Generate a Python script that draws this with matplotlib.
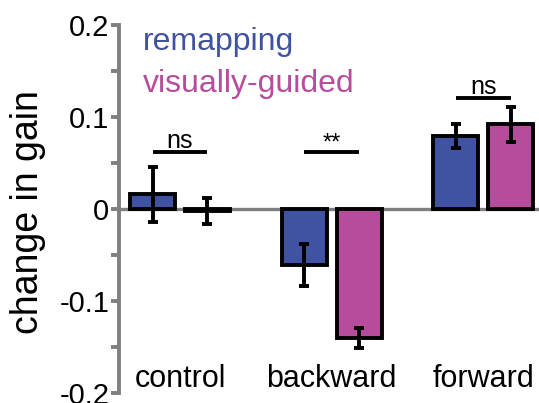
import numpy as np
import matplotlib.pyplot as plt

plt.rcParams['font.family'] = ['Liberation Sans', 'DejaVu Sans']

categories = ['control', 'backward', 'forward']
series_names = ['remapping', 'visually-guided']
remap_mean = [0.016, -0.061, 0.079]
remap_err = [0.030, 0.023, 0.013]
visual_mean = [-0.002, -0.140, 0.092]
visual_err = [0.014, 0.011, 0.019]
sig_labels = ['ns', '**', 'ns']
sig_heights = [0.062, 0.062, 0.121]
y_ticks = [-0.2, -0.1, 0, 0.1, 0.2]
y_tick_labels = ['-0.2', '-0.1', '0', '0.1', '0.2']

blue = '#3F53A2'
pink = '#B84C9C'
gray = '#808080'

fig = plt.figure(figsize=(5.39, 4.03), dpi=100)
ax = fig.add_axes([119 / 539, 10 / 403, 420 / 539, 368 / 403])

x = np.arange(len(categories))
off = 0.181
w = 0.297

# zero line behind the bars
ax.axhline(0, color=gray, lw=2.4, zorder=1)

ax.bar(x - off, remap_mean, w, color=blue, edgecolor='black', linewidth=2.8, zorder=2)
ax.bar(x + off, visual_mean, w, color=pink, edgecolor='black', linewidth=2.8, zorder=2)
ax.errorbar(x - off, remap_mean, yerr=remap_err, fmt='none', ecolor='black',
            elinewidth=2.8, capsize=3.6, capthick=2.8, zorder=3)
ax.errorbar(x + off, visual_mean, yerr=visual_err, fmt='none', ecolor='black',
            elinewidth=2.8, capsize=3.6, capthick=2.8, zorder=3)

# significance bars
for i in range(len(categories)):
    h = sig_heights[i]
    ax.plot([x[i] - off, x[i] + off], [h, h], color='black', lw=2.8, solid_capstyle='butt')
    if sig_labels[i] == '**':
        ax.text(x[i], h + 0.009, sig_labels[i], ha='center', va='center', fontsize=17)
    else:
        ax.text(x[i], h + 0.004, sig_labels[i], ha='center', va='baseline', fontsize=18)

# category names sit inside the axes, near the bottom
for i, c in enumerate(categories):
    ax.text(x[i], -0.193, c, ha='center', va='baseline', fontsize=22)

# coloured text legend
ax.text(-0.245, 0.173, series_names[0], color=blue, fontsize=23, va='baseline')
ax.text(-0.245, 0.127, series_names[1], color=pink, fontsize=23, va='baseline')

ax.set_xlim(-0.402, 2.368)
ax.set_ylim(-0.2, 0.2)
ax.set_yticks(y_ticks)
ax.set_yticklabels(y_tick_labels, fontsize=21)
ax.set_yticks(np.arange(-0.15, 0.2, 0.1), minor=True)
ax.tick_params(axis='y', which='both', length=6, width=2.8, color=gray, pad=1)
ax.set_xticks([])

for s in ['top', 'right', 'bottom']:
    ax.spines[s].set_visible(False)
ax.spines['left'].set_color(gray)
ax.spines['left'].set_linewidth(2.8)
ax.patch.set_alpha(0)

fig.text(28 / 539, 1 - 212 / 403, 'change in gain', rotation=90,
         ha='center', va='center', fontsize=27)

fig.savefig('out.png', dpi=100)
